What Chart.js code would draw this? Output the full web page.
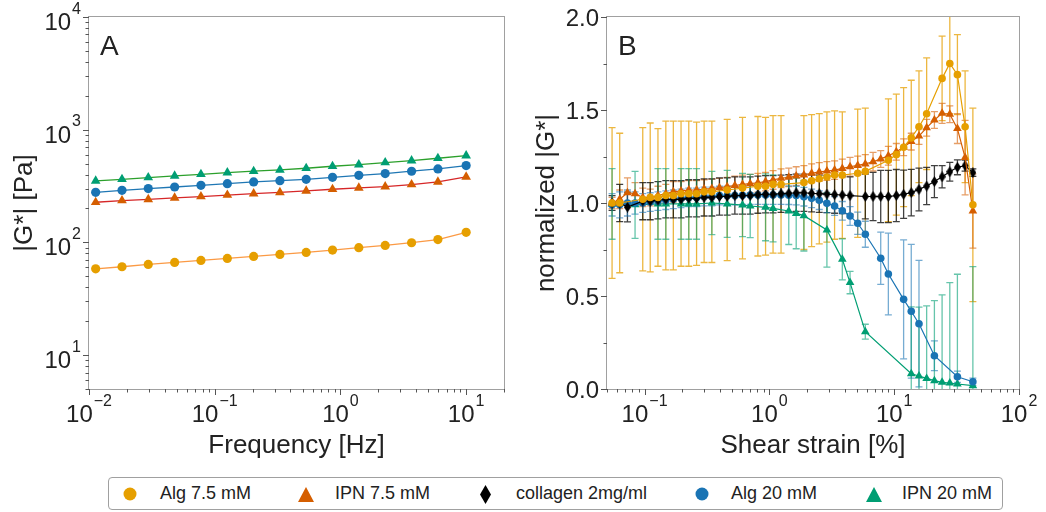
<!DOCTYPE html>
<html>
<head>
<meta charset="utf-8">
<script src="https://cdn.jsdelivr.net/npm/chart.js@4/dist/chart.umd.min.js"></script>
<style>
body{margin:0;background:#fff;width:1046px;height:512px;position:relative;overflow:hidden;font-family:"Liberation Sans",Arial,sans-serif}
#cA{position:absolute;left:0;top:0}
#cB{position:absolute;left:520px;top:0}
#legend{position:absolute;left:108px;top:477px;width:895px;height:33px;border:1px solid #a0a0a0;border-radius:4px;box-sizing:border-box}
#legend span{position:absolute;top:0;line-height:31px;font-size:18px;color:#222;white-space:nowrap}
#legend svg{position:absolute}
</style>
</head>
<body>
<canvas id="cA" width="520" height="465"></canvas>
<canvas id="cB" width="526" height="465"></canvas>
<div id="legend"></div>
<script>
//Series names (legend order)
var seriesNames = ['Alg 7.5 mM', 'IPN 7.5 mM', 'collagen 2mg/ml', 'Alg 20 mM', 'IPN 20 mM'];

// PANEL A - frequency sweep, |G*| in Pa
var freqHz = [0.0113, 0.0183, 0.0296, 0.048, 0.0777, 0.126, 0.204, 0.330, 0.534, 0.865, 1.40, 2.27, 3.68, 5.96, 10.0];
var gAlg75 = [58.3, 60.8, 63.7, 66.4, 69.2, 72.1, 75.1, 78.2, 81.5, 85.5, 89.7, 94.0, 99.3, 106, 122.7];
var gIpn75 = [227, 235, 241, 248, 255, 263, 271, 278, 286, 296, 304, 312, 326, 344, 381];
var gAlg20 = [278, 290, 300, 310, 321, 332, 344, 353, 363, 378, 394, 408, 428, 449, 480];
var gIpn20 = [351, 363, 376, 389, 402, 416, 428, 440, 455, 474, 490, 511, 532, 558, 589];
var aXTicks = [0.01, 0.1, 1, 10];
var aXLabels = ['10^\u22122', '10^\u22121', '10^0', '10^1'];
var aYTicks = [10, 100, 1000, 10000];
var aYLabels = ['10^1', '10^2', '10^3', '10^4'];

// PANEL B - strain sweep, normalized |G*| (mean and error)
var strainPct = [
  0.0549, 0.0632, 0.0729, 0.0839, 0.0967, 0.111, 0.128, 0.148,
  0.170, 0.196, 0.226, 0.261, 0.300, 0.346, 0.398, 0.459,
  0.529, 0.609, 0.702, 0.809, 0.932, 1.07, 1.24, 1.43,
  1.64, 1.89, 2.18, 2.51, 2.89, 3.33, 3.84, 4.43,
  5.10, 5.87, 6.77, 7.80, 8.98, 10.4, 11.9, 13.7,
  15.8, 18.2, 21.0, 24.2, 27.9, 32.1, 37.0, 42.7];
var nAlg75 = [
  1.00, 1.00, null, null, 1.02, 1.03, 1.03, 1.04,
  1.04, 1.05, 1.05, 1.05, 1.06, 1.06, null, 1.07,
  null, 1.08, null, 1.09, 1.09, 1.10, 1.10, null,
  null, 1.11, 1.12, 1.13, 1.14, 1.15, 1.15, null,
  1.16, 1.17, null, null, 1.23, 1.26, 1.30, 1.35,
  1.41, 1.48, null, 1.67, 1.75, 1.69, 1.41, 0.99];
var eAlg75 = [
  .405, .375, null, null, .385, .40, .37, .40,
  .40, .39, .39, .385, .38, .38, null, .38,
  null, .38, null, .375, .37, .37, .37, null,
  null, .36, .355, .35, .35, .345, .34, null,
  .345, .34, null, null, .33, .325, .32, .31,
  .30, .30, null, .227, .27, .215, .30, .52];
var nIpn75 = [
  1.00, 1.02, 1.055, 1.05, 1.03, 1.03, 1.04, 1.05,
  1.06, 1.065, 1.07, 1.07, 1.075, 1.078, 1.082, 1.088,
  1.094, 1.10, 1.104, 1.109, 1.115, 1.124, 1.133, 1.138,
  1.145, 1.151, 1.16, 1.167, 1.172, 1.177, 1.186, 1.195,
  1.202, 1.21, 1.222, 1.237, 1.254, 1.275, 1.30, 1.33,
  1.36, 1.405, 1.446, 1.482, 1.477, 1.40, 1.244, 0.957];
var eIpn75 = [
  .03, .05, .08, .06, .05, .045, .05, .05,
  .055, .05, .05, .05, .05, .05, .05, .05,
  .05, .05, .05, .05, .05, .05, .05, .05,
  .05, .05, .05, .05, .05, .05, .05, .05,
  .05, .05, .05, .045, .05, .045, .045, .045,
  .045, .045, .045, .054, .045, .08, .20, .20];
var nCollagen = [
  1.00, 1.00, 0.978, null, 1.01, 1.01, 1.015, 1.02,
  1.02, 1.02, 1.025, 1.025, 1.03, 1.03, 1.035, 1.035,
  1.04, 1.04, 1.04, 1.045, 1.047, 1.047, 1.05, 1.052,
  1.055, 1.055, 1.052, 1.05, 1.048, 1.045, 1.043, 1.04,
  null, 1.035, 1.035, 1.035, 1.035, 1.04, 1.047, 1.056,
  1.073, 1.091, 1.115, 1.141, 1.168, 1.192, 1.201, 1.163];
var eCollagen = [
  .04, .10, .08, null, .10, .10, .10, .10,
  .10, .10, .10, .10, .10, .10, .10, .10,
  .10, .10, .10, .10, .10, .10, .10, .10,
  .10, .10, .10, .10, .10, .10, .10, .10,
  null, .12, .13, .14, .14, .14, .13, .125,
  .115, .10, .086, .06, .05, .04, .03, .02];
var nAlg20 = [
  0.99, 0.99, 1.00, 1.00, 1.00, 1.005, 1.01, 1.015,
  1.02, 1.025, 1.03, 1.03, 1.035, 1.035, 1.04, 1.04,
  1.04, 1.042, 1.043, 1.043, 1.043, 1.043, 1.043, 1.042,
  1.04, 1.034, 1.025, 1.015, 0.998, 0.984, 0.958, 0.930,
  0.891, 0.832, null, 0.703, 0.618, null, 0.482, 0.418,
  0.351, null, 0.179, null, null, 0.066, null, 0.039];
var eAlg20 = [
  .06, .07, .07, .06, .05, .05, .05, .05,
  .05, .05, .05, .05, .05, .05, .05, .05,
  .05, .05, .05, .05, .05, .05, .05, .05,
  .05, .05, .05, .05, .05, .05, .05, .05,
  .06, .07, null, .14, .22, null, .32, .36,
  .34, null, .08, null, null, .03, null, .02];
var nIpn20 = [
  0.995, null, null, 0.99, null, null, 0.995, 0.995,
  null, 0.995, 0.995, 0.995, null, 1.00, null, 0.995,
  null, 0.989, 0.984, null, 0.977, 0.971, null, 0.957,
  0.944, 0.932, null, null, 0.855, null, 0.697, 0.572,
  null, 0.308, null, null, null, null, null, 0.082,
  0.07, 0.057, 0.045, 0.036, 0.032, 0.027, null, 0.018];
var eIpn20 = [
  .19, null, null, .18, null, null, .19, .19,
  null, .19, .19, .19, null, .17, null, .18,
  null, .17, .17, null, .18, .18, null, .18,
  .19, .19, null, null, .20, null, .11, .06,
  null, .04, null, null, null, null, null, .36,
  .37, .39, .43, .47, .54, .59, null, .64];
var bXTicks = [0.1, 1, 10, 100];
var bXLabels = ['10^\u22121', '10^0', '10^1', '10^2'];
var bYTicks = [0, 0.5, 1, 1.5, 2];
var bYLabels = ['0.0', '0.5', '1.0', '1.5', '2.0'];
var bYMinor = [0.25, 0.75, 1.25, 1.75];

var FONT = '"Liberation Sans", Arial, sans-serif';
var ORANGE = '#E69F00', VERM = '#D55E00', BLUE = '#1a74b4', GREEN = '#009E73';

//minor ticks of a log axis (2..9 x 10^n inside range)
function logMinor(lo, hi) {
    var out = [];
    for (var e = -3; e <= 4; e++) {
        for (var m = 2; m <= 9; m++) {
            var v = m * Math.pow(10, e);
            if (v >= lo * 0.999 && v <= hi * 1.001) out.push(v);
        }
    }
    return out;
}

// "10^-2" -> 10 with superscript
function drawLabel(ctx, text, x, y, align) {
    var parts = text.split('^');
    ctx.font = '24px ' + FONT;
    var wb = ctx.measureText(parts[0]).width;
    var we = 0;
    if (parts[1]) {
        ctx.font = '16px ' + FONT;
        we = ctx.measureText(parts[1]).width + 1;
    }
    var x0 = align === 'right' ? x - wb - we : x - (wb + we) / 2;
    ctx.textAlign = 'left';
    ctx.textBaseline = 'alphabetic';
    ctx.font = '24px ' + FONT;
    ctx.fillText(parts[0], x0, y);
    if (parts[1]) {
        ctx.font = '16px ' + FONT;
        ctx.fillText(parts[1], x0 + wb + 1, y - 16.5);
    }
}

//Frame, ticks, tick labels and panel letter
function axesPlugin(opt) {
    return {
        id: 'axesDecor',
        afterDatasetsDraw: function (chart) {
            var ctx = chart.ctx, ca = chart.chartArea;
            var xs = chart.scales.x, ys = chart.scales.y;
            ctx.save();
            ctx.strokeStyle = '#a0a0a0';
            ctx.lineWidth = 1;
            ctx.strokeRect(Math.round(ca.left) - 0.5, Math.round(ca.top) - 0.5,
                Math.round(ca.right - ca.left) + 1, Math.round(ca.bottom - ca.top) + 1);
            ctx.strokeStyle = '#555';
            ctx.beginPath();
            function xt(v, len) {
                var p = Math.round(xs.getPixelForValue(v)) + 0.5;
                ctx.moveTo(p, ca.bottom); ctx.lineTo(p, ca.bottom + len);
            }
            function yt(v, len) {
                var p = Math.round(ys.getPixelForValue(v)) + 0.5;
                ctx.moveTo(ca.left, p); ctx.lineTo(ca.left - len, p);
            }
            opt.xMajor.forEach(function (v) { xt(v, 6); });
            opt.xMinor.forEach(function (v) { xt(v, 3.5); });
            opt.yMajor.forEach(function (v) { yt(v, 6); });
            opt.yMinor.forEach(function (v) { yt(v, 3.5); });
            ctx.stroke();
            ctx.fillStyle = '#222';
            opt.xMajor.forEach(function (v, i) {
                drawLabel(ctx, opt.xLab[i], xs.getPixelForValue(v), ca.bottom + 33, 'center');
            });
            opt.yMajor.forEach(function (v, i) {
                drawLabel(ctx, opt.yLab[i], ca.left - 8, ys.getPixelForValue(v) + opt.yShift, 'right');
            });
            ctx.font = '28px ' + FONT;
            ctx.textAlign = 'left';
            ctx.fillText(opt.letter, ca.left + 11, ca.top + 38);
            ctx.restore();
        }
    };
}

//Error bars drawn below lines and markers
var errorBars = {
    id: 'errorBars',
    beforeDatasetsDraw: function (chart) {
        var ctx = chart.ctx, ca = chart.chartArea;
        var xs = chart.scales.x, ys = chart.scales.y;
        ctx.save();
        ctx.beginPath();
        ctx.rect(ca.left, ca.top, ca.right - ca.left, ca.bottom - ca.top);
        ctx.clip();
        ctx.lineWidth = 1.3;
        chart.data.datasets.forEach(function (ds) {
            if (!ds.errors) return;
            ctx.strokeStyle = ds.errColor;
            ds.data.forEach(function (p, i) {
                var e = ds.errors[i];
                if (p.y == null || e == null) return;
                var px = xs.getPixelForValue(p.x);
                var top = ys.getPixelForValue(p.y + e), bot = ys.getPixelForValue(p.y - e);
                ctx.beginPath();
                ctx.moveTo(px, top); ctx.lineTo(px, bot);
                ctx.moveTo(px - 3.5, top); ctx.lineTo(px + 3.5, top);
                ctx.moveTo(px - 3.5, bot); ctx.lineTo(px + 3.5, bot);
                ctx.stroke();
            });
        });
        ctx.restore();
    }
};

function diamondImg(w, h, color) {
    var c = document.createElement('canvas');
    c.width = w; c.height = h;
    var g = c.getContext('2d');
    g.fillStyle = color;
    g.beginPath();
    g.moveTo(w / 2, 0); g.lineTo(w, h / 2); g.lineTo(w / 2, h); g.lineTo(0, h / 2);
    g.closePath();
    g.fill();
    return c;
}

function xTitle(text) {
    return { display: true, text: text, color: '#222', font: { family: FONT, size: 26 }, padding: { top: 0, bottom: 4 } };
}
function yTitle(text, pad) {
    return { display: true, text: text, color: '#222', font: { family: FONT, size: 26 }, padding: { top: pad, bottom: 0 } };
}

// Panel A
function lineA(label, xs, ys, lineColor, color, style, r) {
    return {
        label: label,
        data: xs.map(function (x, i) { return { x: x, y: ys[i] }; }),
        borderColor: lineColor, backgroundColor: color, borderWidth: 1.3,
        pointStyle: style, pointRadius: r, pointBackgroundColor: color, pointBorderWidth: 0,
        tension: 0
    };
}
new Chart(document.getElementById('cA'), {
    type: 'line',
    data: {
        datasets: [
            lineA(seriesNames[0], freqHz, gAlg75, '#fb9a45', ORANGE, 'circle', 4.6),
            lineA(seriesNames[1], freqHz, gIpn75, '#d62728', VERM, 'triangle', 5.6),
            lineA(seriesNames[3], freqHz, gAlg20, '#1f77b4', BLUE, 'circle', 4.6),
            lineA(seriesNames[4], freqHz, gIpn20, '#2ca02c', GREEN, 'triangle', 5.6)
        ]
    },
    options: {
        responsive: false,
        animation: false,
        layout: { padding: { top: 17, right: 16, bottom: 0, left: 0 } },
        plugins: { legend: { display: false }, tooltip: { enabled: false } },
        scales: {
            x: {
                type: 'logarithmic', min: 0.01, max: 20,
                ticks: { display: false }, grid: { display: false }, border: { display: false },
                title: xTitle('Frequency [Hz]'),
                afterFit: function (s) { s.height = 76; }
            },
            y: {
                type: 'logarithmic', min: 5, max: 10000,
                ticks: { display: false }, grid: { display: false }, border: { display: false },
                title: yTitle('|G*| [Pa]', 9.5),
                afterFit: function (s) { s.width = 89; }
            }
        }
    },
    plugins: [axesPlugin({
        letter: 'A', xMajor: aXTicks, xLab: aXLabels, xMinor: logMinor(0.01, 20),
        yMajor: aYTicks, yLab: aYLabels, yMinor: logMinor(5, 10000), yShift: 13
    })]
});

// Panel B
function lineB(label, ys, errs, color, errColor, style, r) {
    return {
        label: label,
        data: strainPct.map(function (x, i) { return { x: x, y: ys[i] }; }),
        errors: errs, errColor: errColor,
        borderColor: color, backgroundColor: color, borderWidth: 1.2,
        pointStyle: style, pointRadius: r, pointBackgroundColor: color, pointBorderWidth: 0,
        spanGaps: true, tension: 0
    };
}
new Chart(document.getElementById('cB'), {
    type: 'line',
    data: {
        datasets: [
            lineB(seriesNames[0], nAlg75, eAlg75, ORANGE, 'rgba(230,159,0,0.75)', 'circle', 3.8),
            lineB(seriesNames[1], nIpn75, eIpn75, VERM, 'rgba(213,94,0,0.6)', 'triangle', 5),
            lineB(seriesNames[2], nCollagen, eCollagen, '#000', 'rgba(0,0,0,0.75)', diamondImg(7, 11, '#000'), 5),
            lineB(seriesNames[3], nAlg20, eAlg20, BLUE, 'rgba(26,116,180,0.6)', 'circle', 3.8),
            lineB(seriesNames[4], nIpn20, eIpn20, GREEN, 'rgba(0,158,115,0.6)', 'triangle', 5)
        ]
    },
    options: {
        responsive: false,
        animation: false,
        layout: { padding: { top: 17, right: 27, bottom: 0, left: 0 } },
        plugins: { legend: { display: false }, tooltip: { enabled: false } },
        scales: {
            x: {
                type: 'logarithmic', min: 0.05, max: 100,
                ticks: { display: false }, grid: { display: false }, border: { display: false },
                title: xTitle('Shear strain [%]'),
                afterFit: function (s) { s.height = 76; }
            },
            y: {
                type: 'linear', min: 0, max: 2,
                ticks: { display: false }, grid: { display: false }, border: { display: false },
                title: yTitle('normalized |G*|', 11),
                afterFit: function (s) { s.width = 87; }
            }
        }
    },
    plugins: [errorBars, axesPlugin({
        letter: 'B', xMajor: bXTicks, xLab: bXLabels, xMinor: logMinor(0.05, 100),
        yMajor: bYTicks, yLab: bYLabels, yMinor: bYMinor, yShift: 8.5
    })]
});

// LEGEND (html, below both panels)
var legendMarkerX = [130, 306, 485, 702, 874];
var legendTextX = [160, 335, 516, 731, 902];
var legendShapes = [
    '<svg width="14" height="14"><circle cx="7" cy="7" r="6.5" fill="' + ORANGE + '"/></svg>',
    '<svg width="16" height="15"><polygon points="8,0 16,15 0,15" fill="' + VERM + '"/></svg>',
    '<svg width="11" height="19"><polygon points="5.5,0 11,9.5 5.5,19 0,9.5" fill="#000"/></svg>',
    '<svg width="14" height="14"><circle cx="7" cy="7" r="6.5" fill="' + BLUE + '"/></svg>',
    '<svg width="16" height="15"><polygon points="8,0 16,15 0,15" fill="' + GREEN + '"/></svg>'
];
var legend = document.getElementById('legend');
seriesNames.forEach(function (name, i) {
    var holder = document.createElement('div');
    holder.innerHTML = legendShapes[i];
    var svg = holder.firstChild;
    var w = +svg.getAttribute('width'), h = +svg.getAttribute('height');
    svg.style.left = (legendMarkerX[i] - 109 - w / 2) + 'px';
    svg.style.top = (16 - h / 2) + 'px';
    legend.appendChild(svg);
    var txt = document.createElement('span');
    txt.textContent = name;
    txt.style.left = (legendTextX[i] - 109) + 'px';
    legend.appendChild(txt);
});
</script>
</body>
</html>
